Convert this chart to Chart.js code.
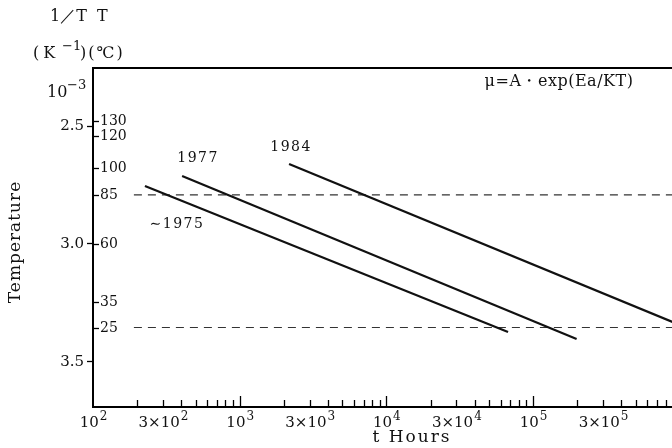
<!DOCTYPE html>
<html>
<head>
<meta charset="utf-8">
<script src="https://cdn.jsdelivr.net/npm/chart.js@4/dist/chart.umd.min.js"></script>
<style>
html,body{margin:0;padding:0;background:#fff;overflow:hidden}
#wrap{width:672px;height:448px}
</style>
</head>
<body>
<div id="wrap"><canvas id="myChart"></canvas></div>
<script>
// life lines: hours vs 1000/T (K^-1 x 10^-3)
const lineNames=['∼1975','1977','1984']
const hours1975=[226,67500]
const invT1975=[2.754,3.373]
const hours1977=[405,198000]
const invT1977=[2.712,3.4025]
const hours1984=[2170,1000000]
const invT1984=[2.661,3.343]

// dashed reference temperatures (°C)
const refTemps=[85,25]
const refHours=[190,1000000]

// axis ticks
const xTickValues=[100,200,300,400,500,600,700,800,900,
  1000,2000,3000,4000,5000,6000,7000,8000,9000,
  10000,20000,30000,40000,50000,60000,70000,80000,90000,
  100000,200000,300000,400000,500000,600000,700000,800000]
const xTickLabels={100:'10^2',300:'3×10^2',1000:'10^3',3000:'3×10^3',10000:'10^4',30000:'3×10^4',100000:'10^5',300000:'3×10^5'}
const yTicks=[2.5,3.0,3.5]
const tempTicks=[130,120,100,85,60,35,25]

const xMinHours=100, xMaxHours=885000
const invMin=2.254, invMax=3.691

function invT(c){return 1000/(c+273.15)}
function pts(hs,vs){return hs.map((h,i)=>({x:h,y:vs[i]}))}

const serif='"DejaVu Serif", "Liberation Serif", serif'

const lifeSets=[[hours1975,invT1975],[hours1977,invT1977],[hours1984,invT1984]].map((s,i)=>({
  label:lineNames[i],
  data:pts(s[0],s[1]),
  borderColor:'#111',
  borderWidth:2.2,
  pointRadius:0
}))
const refSets=refTemps.map(t=>({
  label:t+'°C',
  data:pts(refHours,[invT(t),invT(t)]),
  borderColor:'#333',
  borderWidth:1.2,
  borderDash:[8,6],
  pointRadius:0
}))

// text with a raised exponent, centred on cx
function supText(ctx,base,exp,cx,by,size){
  const es=Math.round(size*0.8)
  ctx.font=size+'px '+serif
  const wb=ctx.measureText(base).width
  ctx.font=es+'px '+serif
  const we=ctx.measureText(exp).width
  const x0=cx-(wb+we)/2
  ctx.font=size+'px '+serif
  ctx.fillText(base,x0,by)
  ctx.font=es+'px '+serif
  ctx.fillText(exp,x0+wb+1,by-size*0.45)
}

const decor={
  id:'decor',
  afterDraw(chart){
    const {ctx,chartArea:a,scales:{x,y}}=chart
    ctx.save()
    ctx.strokeStyle='#000'
    ctx.fillStyle='#111'
    // frame top
    ctx.lineWidth=2
    ctx.beginPath();ctx.moveTo(a.left,a.top);ctx.lineTo(a.right,a.top);ctx.stroke()
    // inward ticks on the time axis
    ctx.lineWidth=1.3
    xTickValues.forEach(v=>{
      if(v===xMinHours)return
      const px=Math.round(x.getPixelForValue(v))+0.5
      const len=/^10+$/.test(String(v))?11:7
      ctx.beginPath();ctx.moveTo(px,a.bottom);ctx.lineTo(px,a.bottom-len);ctx.stroke()
    })
    // time axis labels
    ctx.textAlign='left';ctx.textBaseline='alphabetic'
    Object.keys(xTickLabels).forEach(k=>{
      const [b,e]=xTickLabels[k].split('^')
      supText(ctx,b,e,x.getPixelForValue(+k),a.bottom+20,15)
    })
    // temperature ticks inside the left axis
    ctx.font='14px '+serif
    ctx.textAlign='left';ctx.textBaseline='middle'
    tempTicks.forEach(t=>{
      const py=Math.round(y.getPixelForValue(invT(t)))+0.5
      ctx.beginPath();ctx.moveTo(a.left,py);ctx.lineTo(a.left+6,py);ctx.stroke()
      ctx.fillText(String(t),a.left+7,py)
    })
    // year labels near line starts
    const starts=chart.data.datasets.slice(0,3).map(d=>({x:x.getPixelForValue(d.data[0].x),y:y.getPixelForValue(d.data[0].y)}))
    const offs=[[32,38],[16,-18],[2,-17]]
    ctx.textAlign='center'
    ctx.letterSpacing='1.5px'
    lineNames.forEach((n,i)=>ctx.fillText(n,starts[i].x+offs[i][0],starts[i].y+offs[i][1]))
    // formula
    ctx.font='16px '+serif
    ctx.letterSpacing='0.5px'
    ctx.fillText('μ=A・exp(Ea/KT)',559,82)
    // axis titles
    ctx.font='17px '+serif
    ctx.letterSpacing='2px'
    ctx.fillText('t Hours',412,438)
    ctx.save()
    ctx.translate(16,242);ctx.rotate(-Math.PI/2)
    ctx.letterSpacing='1px'
    ctx.fillText('Temperature',0,0)
    ctx.restore()
    // header units
    ctx.font='16px '+serif
    ctx.letterSpacing='0px'
    ctx.textAlign='left'
    ctx.fillText('1／T',50,17)
    ctx.fillText('T',97,17)
    ctx.textBaseline='alphabetic'
    ctx.letterSpacing='4px'
    ctx.fillText('(K',33,58)
    ctx.letterSpacing='2px'
    ctx.fillText(')(℃)',80,58)
    ctx.letterSpacing='0px'
    ctx.fillText('10',47,97)
    ctx.font='13px '+serif
    ctx.fillText('−1',62,50)
    ctx.fillText('−3',67,89)
    ctx.restore()
  }
}

const ctx=document.getElementById('myChart').getContext('2d')
const chart=new Chart(ctx,{
  type:'line',
  data:{datasets:lifeSets.concat(refSets)},
  plugins:[decor],
  options:{
    responsive:true,
    maintainAspectRatio:false,
    animation:false,
    layout:{padding:{top:68,right:0,left:0,bottom:0}},
    plugins:{legend:{display:false},tooltip:{enabled:false}},
    scales:{
      x:{
        type:'logarithmic',
        min:xMinHours,
        max:xMaxHours,
        afterBuildTicks:s=>{s.ticks=xTickValues.map(v=>({value:v}))},
        afterFit:s=>{s.height=41},
        ticks:{display:false},
        grid:{drawOnChartArea:false,drawTicks:false},
        border:{display:true,color:'#000',width:2}
      },
      y:{
        type:'linear',
        reverse:true,
        min:invMin,
        max:invMax,
        afterBuildTicks:s=>{s.ticks=yTicks.map(v=>({value:v}))},
        afterFit:s=>{s.width=93},
        ticks:{color:'#111',font:{family:serif,size:15},padding:3,callback:v=>v.toFixed(1)},
        grid:{drawOnChartArea:false,tickLength:6,tickColor:'#000',tickWidth:1.3},
        border:{display:true,color:'#000',width:2}
      }
    }
  }
})
</script>
</body>
</html>
